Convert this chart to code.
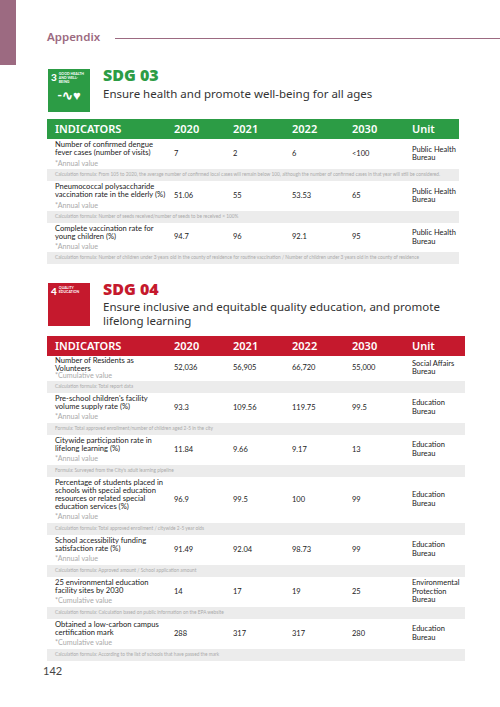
<!DOCTYPE html>
<html><head><meta charset="utf-8">
<script src="https://cdn.jsdelivr.net/npm/chart.js@4"></script>
<style>
body{margin:0;width:500px;height:707px;background:#fff;font-family:Lato,sans-serif;position:relative;overflow:hidden;color:#222}
.abs{position:absolute}
.icon{width:42px;height:43px;color:#fff;font-size:3.5px;line-height:4px;font-weight:bold;box-sizing:border-box;padding:3px;overflow:hidden}
.icon b{font-size:10px;line-height:10px;float:left;margin-right:2px}
.sdg{font-weight:900;font-size:16px;left:103px;font-family:"Open Sans",sans-serif}
.sub{font-size:11.5px;left:103px;color:#333;line-height:14px;width:360px;font-family:"Noto Sans",sans-serif}
table{position:absolute;left:47px;border-collapse:collapse;table-layout:fixed;font-size:7.6px;line-height:8.2px}
th{color:#fff;font-weight:600;font-size:11px;text-align:left;padding:0 0 0 8px;height:20px;font-family:"Noto Sans",sans-serif}
td{padding:0 0 0 8px;vertical-align:middle;overflow:hidden}
td.n{font-size:7.5px}
.note{color:#aaa;font-size:7.2px;display:block;margin-top:3px}
tr.f td{background:#ececec;color:#aaa;font-size:4.8px;line-height:5.5px;height:12px}
</style></head><body>
<div class="abs" style="left:0;top:0;width:16px;height:65px;background:#9c6a81"></div>
<div class="abs" style="left:47px;top:29px;font-size:11.5px;color:#9c6a81;font-weight:600;font-family:'Noto Sans',sans-serif">Appendix</div>
<div class="abs" style="left:115px;top:38px;width:385px;height:1px;background:#9c6a81"></div>

<div class="abs icon" style="left:48px;top:69px;background:#2c9c45"><b>3</b>GOOD HEALTH<br>AND WELL-BEING<div style="clear:both;font-size:13px;line-height:14px;text-align:center;margin-top:4px">-∿♥</div></div>
<div class="abs sdg" style="top:64px;color:#2c9c45">SDG 03</div>
<div class="abs sub" style="top:87px">Ensure health and promote well-being for all ages</div>

<div class="abs icon" style="left:48px;top:283px;background:#c5192d"><b>4</b>QUALITY<br>EDUCATION</div>
<div class="abs sdg" style="top:278px;color:#c5192d">SDG 04</div>
<div class="abs sub" style="top:300px">Ensure inclusive and equitable quality education, and promote lifelong learning</div>

<table id="t3" style="top:119px;width:412px"></table>
<table id="t4" style="top:336px;width:418px"></table>
<div class="abs" style="left:43px;top:664px;font-size:11px;color:#444">142</div>

<script>
const years = ["2020", "2021", "2022", "2030"];

const sdg3Indicators = ["Number of confirmed dengue fever cases (number of visits)", "Pneumococcal polysaccharide vaccination rate in the elderly (%)", "Complete vaccination rate for young children (%)"];
const sdg3Notes = ["*Annual value", "*Annual value", "*Annual value"];
const sdg3Values = [["7", "2", "6", "<100"], ["51.06", "55", "53.53", "65"], ["94.7", "96", "92.1", "95"]];
const sdg3Units = ["Public Health Bureau", "Public Health Bureau", "Public Health Bureau"];
const sdg3Formulas = [
  "Calculation formula: From 105 to 2020, the average number of confirmed local cases will remain below 100, although the number of confirmed cases in that year will still be considered.",
  "Calculation formula: Number of seeds received/number of seeds to be received × 100%",
  "Calculation formula: Number of children under 3 years old in the county of residence for routine vaccination / Number of children under 3 years old in the county of residence"
];
const sdg3Heights = [30, 30, 29];

const sdg4Indicators = ["Number of Residents as Volunteers", "Pre-school children's facility volume supply rate (%)", "Citywide participation rate in lifelong learning (%)", "Percentage of students placed in schools with special education resources or related special education services (%)", "School accessibility funding satisfaction rate (%)", "25 environmental education facility sites by 2030", "Obtained a low-carbon campus certification mark"];
const sdg4Notes = ["*Cumulative value", "*Annual value", "*Annual value", "*Annual value", "*Annual value", "*Cumulative value", "*Cumulative value"];
const sdg4Values = [["52,036", "56,905", "66,720", "55,000"], ["93.3", "109.56", "119.75", "99.5"], ["11.84", "9.66", "9.17", "13"], ["96.9", "99.5", "100", "99"], ["91.49", "92.04", "98.73", "99"], ["14", "17", "19", "25"], ["288", "317", "317", "280"]];
const sdg4Units = ["Social Affairs Bureau", "Education Bureau", "Education Bureau", "Education Bureau", "Education Bureau", "Environmental Protection Bureau", "Education Bureau"];
const sdg4Formulas = [
  "Calculation formula: Total report data",
  "Formula: Total approved enrollment/number of children aged 2-5 in the city",
  "Formula: Surveyed from the City's adult learning pipeline",
  "Calculation formula: Total approved enrollment / citywide 2-5 year olds",
  "Calculation formula: Approved amount / School application amount",
  "Calculation formula: Calculation based on public information on the EPA website",
  "Calculation formula: According to the list of schools that have passed the mark"
];
const sdg4Heights = [20, 30, 30, 46, 30, 30, 30];

function build(id, color, ind, notes, vals, units, forms, heights, unitW) {
  const t = document.getElementById(id);
  let h = `<colgroup><col style="width:119px"><col style="width:59px"><col style="width:59px"><col style="width:60px"><col style="width:60px"><col style="width:${unitW}px"></colgroup>`;
  h += `<tr style="background:${color}"><th>INDICATORS</th>` + years.map(y => `<th>${y}</th>`).join("") + `<th>Unit</th></tr>`;
  ind.forEach((name, i) => {
    const noteStyle = id === "t4" && i === 0 ? "margin-top:0" : "";
    h += `<tr style="height:${heights[i]}px"><td>${name}<span class="note" style="${noteStyle}">${notes[i]}</span></td>` +
      vals[i].map(v => `<td class="n">${v}</td>`).join("") + `<td class="n">${units[i]}</td></tr>`;
    h += `<tr class="f"><td colspan="6">${forms[i]}</td></tr>`;
  });
  t.innerHTML = h;
}
build("t3", "#2c9c45", sdg3Indicators, sdg3Notes, sdg3Values, sdg3Units, sdg3Formulas, sdg3Heights, 55);
build("t4", "#c5192d", sdg4Indicators, sdg4Notes, sdg4Values, sdg4Units, sdg4Formulas, sdg4Heights, 61);
</script>
</body></html>
